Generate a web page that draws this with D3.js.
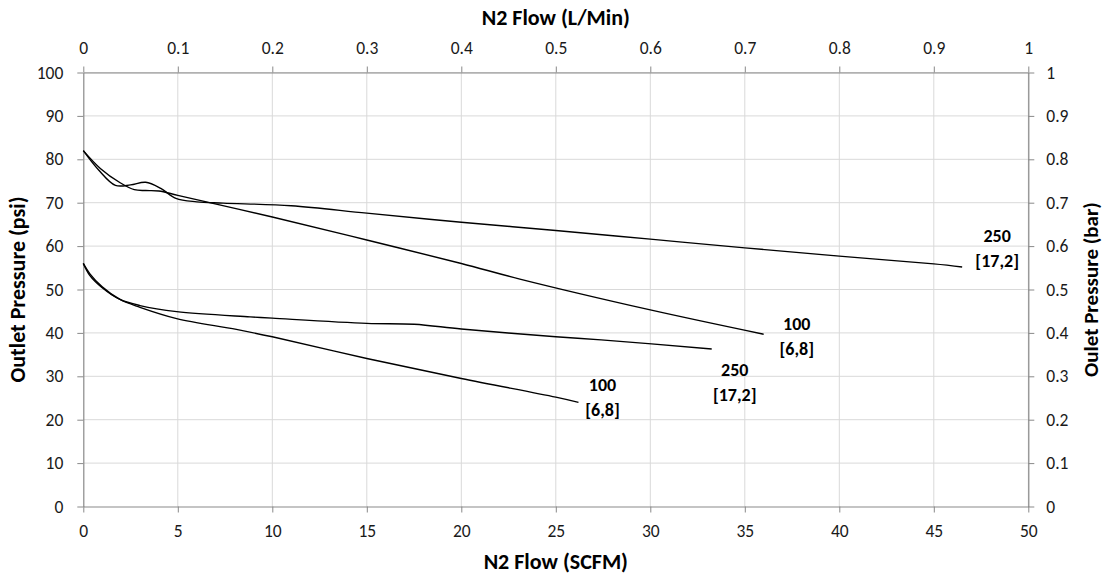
<!DOCTYPE html>
<html>
<head>
<meta charset="utf-8">
<script src="https://cdn.jsdelivr.net/npm/d3@7"></script>
<style>
  html, body { margin: 0; padding: 0; background: #fff; }
  svg text { font-family: Carlito, Calibri, Lato, "Open Sans", sans-serif; }
</style>
</head>
<body>
<svg id="chart" width="1104" height="574"></svg>
<script>
// ---- data (N2 flow in SCFM, outlet pressure in psi) ----
const seriesNames = ["250 top", "100 top", "250 bottom", "100 bottom"];
const labelTop = ["250", "100", "250", "100"];
const labelBottom = ["[17,2]", "[6,8]", "[17,2]", "[6,8]"];

const flow250Top = [0, 0.8, 1.7, 2.5, 3.3, 4.1, 4.9, 6, 7.4, 11, 15, 20, 25, 30, 35, 40, 45, 46.5];
const psi250Top  = [82, 77.6, 74, 74.1, 74.7, 73.3, 71.0, 70.2, 69.9, 69.3, 67.6, 65.5, 63.6, 61.6, 59.6, 57.7, 55.9, 55.2];

const flow100Top = [0, 0.9, 1.95, 2.7, 3.3, 4, 5, 10, 15, 20, 23.1, 30, 36];
const psi100Top  = [82, 77.9, 74.6, 73.0, 72.8, 72.7, 71.7, 66.7, 61.4, 56, 52.4, 45.3, 39.7];

const flow250Bot = [0, 0.35, 1, 1.94, 3, 4.94, 8.82, 10, 15, 17.5, 20, 25, 27.4, 33.25];
const psi250Bot  = [56, 53.2, 50.4, 47.7, 46.3, 44.9, 43.7, 43.4, 42.2, 42.0, 40.9, 39.1, 38.4, 36.3];

const flow100Bot = [0, 0.35, 1, 1.94, 3, 4.94, 8.1, 10, 15, 20, 25, 26.2];
const psi100Bot  = [56, 53.6, 50.6, 47.7, 45.9, 43.3, 40.8, 39.1, 34.1, 29.5, 25.2, 24.0];

const scfmTicks = [0, 5, 10, 15, 20, 25, 30, 35, 40, 45, 50];
const lpmTicks  = [0, 0.1, 0.2, 0.3, 0.4, 0.5, 0.6, 0.7, 0.8, 0.9, 1];
const psiTicks  = [0, 10, 20, 30, 40, 50, 60, 70, 80, 90, 100];
const barTicks  = [0, 0.1, 0.2, 0.3, 0.4, 0.5, 0.6, 0.7, 0.8, 0.9, 1];

// label offsets (pixels, relative to last point of each series)
const labelDx = [35, 33, 23, 24];
const labelDy = [-25, -4, 27, -11];

// ---- build ----
const flows = [flow250Top, flow100Top, flow250Bot, flow100Bot];
const psis  = [psi250Top, psi100Top, psi250Bot, psi100Bot];
const series = seriesNames.map((n, i) => ({
  name: n,
  pts: flows[i].map((f, j) => ({ x: f, y: psis[i][j] }))
}));

const svg = d3.select("#chart");
const L = 83.3, R = 1028.3, T = 72.5, B = 506.5;

const x  = d3.scaleLinear().domain([0, 50]).range([L, R]);
const x2 = d3.scaleLinear().domain([0, 1]).range([L, R]);
const y  = d3.scaleLinear().domain([0, 100]).range([B, T]);
const y2 = d3.scaleLinear().domain([0, 1]).range([B, T]);

const gridColor = "#d9d9d9", axisColor = "#898989", textColor = "#1a1a1a";
const tickFont = "17.5px";

// gridlines
svg.append("g").selectAll("line").data(psiTicks.slice(1)).join("line")
  .attr("x1", L).attr("x2", R).attr("y1", d => y(d)).attr("y2", d => y(d))
  .attr("stroke", gridColor).attr("stroke-width", 1);
svg.append("g").selectAll("line").data(scfmTicks.slice(1)).join("line")
  .attr("y1", T).attr("y2", B).attr("x1", d => x(d)).attr("x2", d => x(d))
  .attr("stroke", gridColor).attr("stroke-width", 1);

function styleAxis(g) {
  g.selectAll("path").attr("stroke", axisColor).attr("stroke-width", 1.2);
  g.selectAll(".tick line").attr("stroke", axisColor).attr("stroke-width", 1);
  g.selectAll("text").attr("fill", textColor).style("font-size", tickFont)
    .style("font-family", "Carlito, Calibri, Lato, sans-serif");
}
const fmt1 = d => d === 0 || d === 1 ? d3.format("d")(d) : d3.format(".1f")(d);

svg.append("g").attr("transform", `translate(0,${B})`)
  .call(d3.axisBottom(x).tickValues(scfmTicks).tickFormat(d3.format("d")).tickSize(6).tickSizeOuter(0).tickPadding(12))
  .call(styleAxis);
svg.append("g").attr("transform", `translate(0,${T})`)
  .call(d3.axisTop(x2).tickValues(lpmTicks).tickFormat(fmt1).tickSize(6).tickSizeOuter(0).tickPadding(13))
  .call(styleAxis);
svg.append("g").attr("transform", `translate(${L},0)`)
  .call(d3.axisLeft(y).tickValues(psiTicks).tickFormat(d3.format("d")).tickSize(6).tickSizeOuter(0).tickPadding(14))
  .call(styleAxis);
svg.append("g").attr("transform", `translate(${R},0)`)
  .call(d3.axisRight(y2).tickValues(barTicks).tickFormat(fmt1).tickSize(6).tickSizeOuter(0).tickPadding(12))
  .call(styleAxis);

// lines
const line = d3.line().x(d => x(d.x)).y(d => y(d.y)).curve(d3.curveCatmullRom.alpha(0.5));
svg.append("g").selectAll("path").data(series).join("path")
  .attr("d", d => line(d.pts))
  .attr("fill", "none").attr("stroke", "#000").attr("stroke-width", 1.4);

// data labels
const lg = svg.append("g").selectAll("g").data(series).join("g")
  .attr("transform", (d, i) => {
    const last = d.pts[d.pts.length - 1];
    return `translate(${x(last.x) + labelDx[i]},${y(last.y) + labelDy[i]})`;
  });
lg.append("text").attr("text-anchor", "middle").attr("font-weight", "bold")
  .style("font-size", "18px").attr("fill", "#000").text((d, i) => labelTop[i]);
lg.append("text").attr("text-anchor", "middle").attr("font-weight", "bold").attr("y", 25)
  .style("font-size", "18px").attr("fill", "#000").text((d, i) => labelBottom[i]);

// axis titles
svg.append("text").attr("x", (L + R) / 2).attr("y", 25).attr("text-anchor", "middle")
  .attr("font-weight", "bold").style("font-size", "22px").attr("fill", "#000").text("N2 Flow (L/Min)");
svg.append("text").attr("x", (L + R) / 2).attr("y", 569).attr("text-anchor", "middle")
  .attr("font-weight", "bold").style("font-size", "22px").attr("fill", "#000").text("N2 Flow (SCFM)");
svg.append("text").attr("transform", `translate(25,${(T + B) / 2}) rotate(-90)`).attr("text-anchor", "middle")
  .attr("font-weight", "bold").style("font-size", "22px").attr("fill", "#000").text("Outlet Pressure (psi)");
svg.append("text").attr("transform", `translate(1098,${(T + B) / 2}) rotate(-90)`).attr("text-anchor", "middle")
  .attr("font-weight", "bold").style("font-size", "21px").attr("fill", "#000").text("Oulet Pressure (bar)");
</script>
</body>
</html>
